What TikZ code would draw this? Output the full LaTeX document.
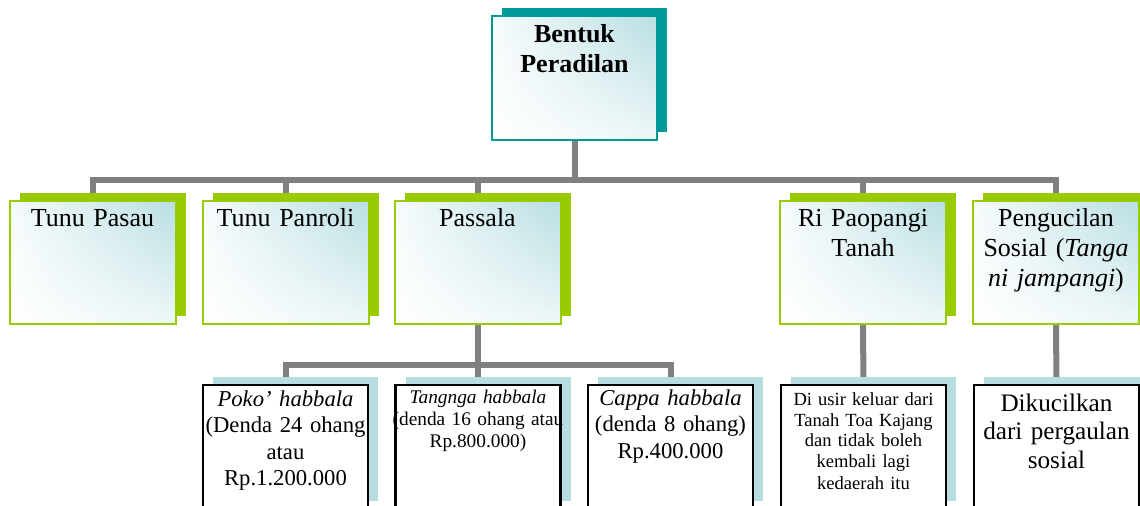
\documentclass[tikz,border=0pt]{standalone}
\usepackage{fontspec}
\setmainfont{Liberation Serif}
\usetikzlibrary{shadows,shadings,backgrounds}
\definecolor{tealc}{RGB}{0,153,153}
\definecolor{greenc}{RGB}{153,204,0}
\definecolor{lblue}{RGB}{183,221,224}
\definecolor{grad}{RGB}{184,222,226}
\definecolor{linegray}{RGB}{128,128,128}
\tikzset{
  conn/.style={draw=linegray, line width=4.5pt},
  gradfill/.style={upper right=grad, upper left=grad!12!white, lower right=grad!25!white, lower left=white},
  boxone/.style={draw=tealc, line width=1.5pt, minimum width=123.75pt, minimum height=93pt, inner sep=0pt,
    copy shadow={shadow xshift=7.5pt, shadow yshift=6pt, fill=tealc, draw=none}, gradfill},
  boxtwo/.style={draw=greenc, line width=1.5pt, minimum width=124.5pt, minimum height=92.25pt, inner sep=0pt,
    copy shadow={shadow xshift=7.5pt, shadow yshift=6pt, fill=greenc, draw=none}, gradfill},
  boxthree/.style={draw=black, line width=1.6pt, fill=white, minimum width=123.75pt, minimum height=93pt, inner sep=0pt,
    copy shadow={shadow xshift=7.5pt, shadow yshift=6pt, fill=lblue, draw=none}},
  txt/.style={anchor=base, inner sep=0pt, text width=135pt, align=center},
  fa/.style={txt, font=\fontsize{19.5}{22.5}\selectfont},
  fb/.style={txt, font=\fontsize{17}{20}\selectfont},
  fc/.style={txt, font=\fontsize{14.5}{16.5}\selectfont},
  fd/.style={txt, font=\fontsize{13.9}{15.75}\selectfont},
  fe/.style={txt, font=\fontsize{18.9}{21.4}\selectfont},
}
\begin{document}
\begin{tikzpicture}[x=0.75pt,y=-0.75pt]
\useasboundingbox (0,0) rectangle (1140,506);
\clip (0,0) rectangle (1140,506);
% level 1
\node[boxone] (top) at (574.5,78) {};
\node[fa, font=\bfseries\fontsize{19.5}{22.5}\selectfont] (ttop) at (574.5,43) {Bentuk\\Peradilan};
% level 2
\node[boxtwo] (a) at (92.5,262.5) {};
\node[boxtwo] (b) at (285.5,262.5) {};
\node[boxtwo] (c) at (477.5,262.5) {};
\node[boxtwo] (d) at (863,262.5) {};
\node[boxtwo] (e) at (1056,262.5) {};
\node[fa] (ta) at (92.5,227) {Tunu Pasau};
\node[fa] (tb) at (285.5,227) {Tunu Panroli};
\node[fa] (tc) at (477.5,227) {Passala};
\node[fa] (td) at (863,227) {Ri Paopangi\\Tanah};
\node[fa] (te) at (1056,227) {Pengucilan\\Sosial (\textit{Tanga}\\\textit{ni jampangi})};
% level 3
\node[boxthree] (c1) at (285.5,447) {};
\node[boxthree] (c2) at (478,447) {};
\node[boxthree] (c3) at (670.5,447) {};
\node[boxthree] (d1) at (863.5,447) {};
\node[boxthree] (e1) at (1056.5,447) {};
\node[fb] (tc1) at (285.5,406) {\textit{Poko’ habbala}\\(Denda 24 ohang\\atau\\Rp.1.200.000};
\node[fc] (tc2) at (478,403) {\textit{Tangnga habbala}\\(denda 16 ohang atau\\Rp.800.000)};
\node[fb] (tc3) at (670.5,405) {\textit{Cappa habbala}\\(denda 8 ohang)\\Rp.400.000};
\node[fd] (td1) at (863.5,405) {Di usir keluar dari\\Tanah Toa Kajang\\dan tidak boleh\\kembali lagi\\kedaerah itu};
\node[fe] (te1) at (1056.5,411) {Dikucilkan\\dari pergaulan\\sosial};
% connectors
\coordinate (busone) at (0,180.5);
\coordinate (bustwo) at (0,365);
\begin{scope}[on background layer]
\fill[white] (0,0) rectangle (1140,506);
\draw[conn] (top.south) -- (top.south |- busone) -| (a.north);
\draw[conn] (top.south |- busone) -| (b.north);
\draw[conn] (top.south |- busone) -| (c.north);
\draw[conn] (top.south |- busone) -| (d.north);
\draw[conn] (top.south |- busone) -| (e.north);
\draw[conn] (c.south) -- (c.south |- bustwo) -| (c1.north);
\draw[conn] (c.south |- bustwo) -| (c2.north);
\draw[conn] (c.south |- bustwo) -| (c3.north);
\draw[conn] (d.south) -- (d1.north);
\draw[conn] (e.south) -- (e1.north);
\end{scope}
\end{tikzpicture}
\end{document}
